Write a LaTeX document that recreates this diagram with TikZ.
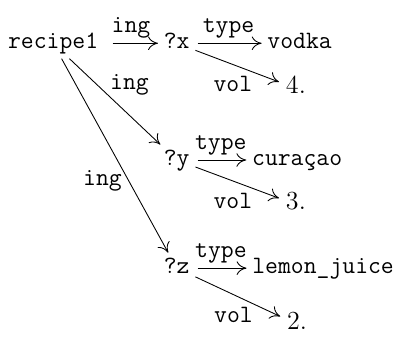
\documentclass[tikz,border=0pt]{standalone}
\usetikzlibrary{arrows.meta,positioning}
\begin{document}
\begin{tikzpicture}[
    term/.style={font=\ttfamily\fontsize{11.5}{14}\selectfont,text height=1.6ex,text depth=.45ex,inner sep=2.5pt},
    num/.style={font=\fontsize{12}{14}\selectfont,text height=1.6ex,text depth=.45ex,inner sep=3pt},
    rel/.style={-{To[length=1.6mm,width=2.2mm]},line width=0.4pt},
    lbl/.style={font=\ttfamily\fontsize{11.5}{14}\selectfont,inner sep=2pt}
  ]
    \useasboundingbox (0,0) rectangle (6.41,-5.45);
    \node[term] (recipe) at (0.86,-0.70) {recipe1};
    \node[term] (x) at (2.86,-0.70) {?x};
    \node[term] (vodka) at (4.85,-0.70) {vodka};
    \node[num] (four) at (4.79,-1.43) {4.};
    \node[term] (y) at (2.86,-2.59) {?y};
    \node[term] (curacao) at (4.81,-2.59) {curaçao};
    \node[num] (three) at (4.79,-3.31) {3.};
    \node[term] (z) at (2.86,-4.34) {?z};
    \node[term] (lemon) at (5.23,-4.34) {lemon\_juice};
    \node[num] (two) at (4.81,-5.25) {2.};
    \draw[rel,shorten <=4pt] (recipe) -- node[lbl,above] {ing} (x);
    \draw[rel] (recipe) -- node[lbl,pos=0.3,right=4pt] {ing} (y);
    \draw[rel] (recipe) -- node[lbl,pos=0.63,left=1pt] {ing} (z);
    \draw[rel,shorten <=1pt] (x) -- node[lbl,above] {type} (vodka);
    \draw[rel] (x) -- node[lbl,below=2.5pt,xshift=-2pt] {vol} (four);
    \draw[rel,shorten <=1pt] (y) -- node[lbl,above] {type} (curacao);
    \draw[rel] (y) -- node[lbl,below=2.5pt,xshift=-2pt] {vol} (three);
    \draw[rel,shorten <=1pt] (z) -- node[lbl,above] {type} (lemon);
    \draw[rel] (z) -- node[lbl,below=2.5pt,xshift=-2pt] {vol} (two);
\end{tikzpicture}
\end{document}
